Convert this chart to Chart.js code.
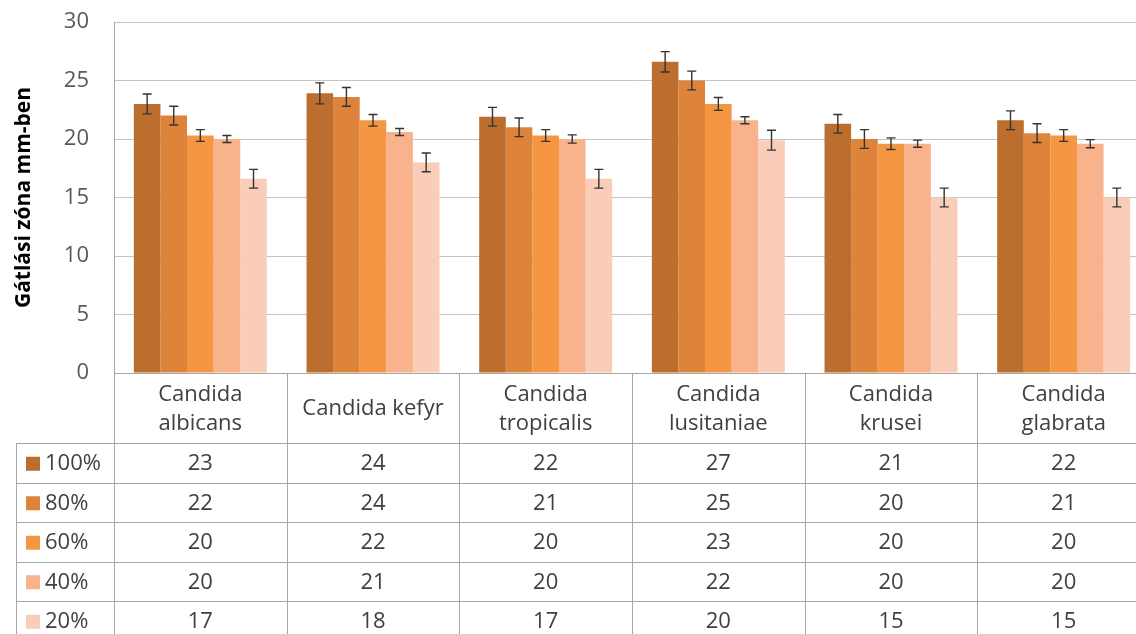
<!DOCTYPE html>
<html lang="hu">
<head>
    <meta charset="UTF-8">
    <title>Gátlási zóna</title>
    <script src="https://cdn.jsdelivr.net/npm/chart.js"></script>
    <style>
        html, body {
            margin: 0;
            padding: 0;
            background: white;
            overflow: hidden;
        }
        #wrap {
            width: 1150px;
            height: 634px;
        }
    </style>
</head>
<body>
    <div id="wrap"><canvas id="chart" width="1150" height="634"></canvas></div>

    <script>
        // categories (two-line labels as in the table header)
        const categories = [
            ['Candida', 'albicans'],
            ['Candida kefyr'],
            ['Candida', 'tropicalis'],
            ['Candida', 'lusitaniae'],
            ['Candida', 'krusei'],
            ['Candida', 'glabrata']
        ];
        const seriesNames = ['100%', '80%', '60%', '40%', '20%'];
        const seriesColors = ['#bb6e2d', '#de833a', '#f59642', '#f8b28c', '#f9cdb7'];

        // bar heights
        const values100 = [23.0, 23.9, 21.9, 26.6, 21.3, 21.6];
        const values80  = [22.0, 23.6, 21.0, 25.0, 20.0, 20.5];
        const values60  = [20.3, 21.6, 20.3, 23.0, 19.6, 20.3];
        const values40  = [20.0, 20.6, 20.0, 21.6, 19.6, 19.6];
        const values20  = [16.6, 18.0, 16.6, 19.9, 15.0, 15.0];

        // +/- error bar sizes
        const err100 = [0.85, 0.9, 0.8, 0.87, 0.8, 0.8];
        const err80  = [0.8, 0.8, 0.8, 0.8, 0.8, 0.8];
        const err60  = [0.5, 0.5, 0.5, 0.55, 0.5, 0.5];
        const err40  = [0.3, 0.3, 0.35, 0.3, 0.3, 0.35];
        const err20  = [0.8, 0.8, 0.8, 0.85, 0.8, 0.8];

        // numbers printed in the data table
        const table100 = [23, 24, 22, 27, 21, 22];
        const table80  = [22, 24, 21, 25, 20, 21];
        const table60  = [20, 22, 20, 23, 20, 20];
        const table40  = [20, 21, 20, 22, 20, 20];
        const table20  = [17, 18, 17, 20, 15, 15];

        const yTicks = [0, 5, 10, 15, 20, 25, 30];

        const allValues = [values100, values80, values60, values40, values20];
        const allErrors = [err100, err80, err60, err40, err20];
        const allTable = [table100, table80, table60, table40, table20];

        const FONT = '"Open Sans", "Noto Sans", sans-serif';
        const TEXT = '#404040';
        const LINE = '#a6a6a6';

        const errorBars = {
            id: 'errorBars',
            afterDatasetsDraw(chart) {
                const ctx = chart.ctx;
                const y = chart.scales.y;
                ctx.save();
                ctx.strokeStyle = '#333333';
                ctx.lineWidth = 1.4;
                chart.data.datasets.forEach((ds, di) => {
                    const meta = chart.getDatasetMeta(di);
                    meta.data.forEach((bar, i) => {
                        const v = ds.data[i], e = allErrors[di][i];
                        const top = y.getPixelForValue(v + e);
                        const bot = y.getPixelForValue(v - e);
                        const cap = 4.5;
                        ctx.beginPath();
                        ctx.moveTo(bar.x, top); ctx.lineTo(bar.x, bot);
                        ctx.moveTo(bar.x - cap, top); ctx.lineTo(bar.x + cap, top);
                        ctx.moveTo(bar.x - cap, bot); ctx.lineTo(bar.x + cap, bot);
                        ctx.stroke();
                    });
                });
                ctx.restore();
            }
        };

        const dataTable = {
            id: 'dataTable',
            afterDraw(chart) {
                const ctx = chart.ctx;
                const x = chart.scales.x;
                const area = chart.chartArea;
                const half = (x.getPixelForValue(1) - x.getPixelForValue(0)) / 2;
                const top = area.bottom;
                const headH = 70;
                const rowH = 39.5;
                const boxLeft = 16;
                const bottom = top + headH + rowH * seriesNames.length;
                const right = x.getPixelForValue(categories.length - 1) + half;

                ctx.save();
                ctx.strokeStyle = LINE;
                ctx.lineWidth = 1;
                ctx.beginPath();
                ctx.moveTo(area.left, top + 0.5); ctx.lineTo(right, top + 0.5);
                for (let r = 0; r <= seriesNames.length; r++) {
                    const yy = Math.round(top + headH + r * rowH) + 0.5;
                    ctx.moveTo(boxLeft, yy); ctx.lineTo(right, yy);
                }
                ctx.moveTo(boxLeft + 0.5, top + headH); ctx.lineTo(boxLeft + 0.5, bottom);
                for (let i = 0; i <= categories.length; i++) {
                    const xx = Math.round(x.getPixelForValue(i) - half) + 0.5;
                    ctx.moveTo(xx, top); ctx.lineTo(xx, bottom);
                }
                ctx.stroke();

                ctx.fillStyle = TEXT;
                ctx.font = '22px ' + FONT;
                ctx.textAlign = 'center';
                ctx.textBaseline = 'middle';
                categories.forEach((lab, i) => {
                    const cx = x.getPixelForValue(i);
                    const mid = top + headH / 2 + 1;
                    const n = lab.length;
                    lab.forEach((line, k) => {
                        ctx.fillText(line, cx, mid + (k - (n - 1) / 2) * 29);
                    });
                });

                seriesNames.forEach((name, r) => {
                    const cy = top + headH + r * rowH + rowH / 2 + 1;
                    ctx.fillStyle = seriesColors[r];
                    ctx.fillRect(26, cy - 7, 14, 14);
                    ctx.fillStyle = TEXT;
                    ctx.textAlign = 'left';
                    ctx.fillText(name, 45, cy);
                    ctx.textAlign = 'center';
                    allTable[r].forEach((v, i) => {
                        ctx.fillText(String(v), x.getPixelForValue(i), cy);
                    });
                });
                ctx.restore();
            }
        };

        const ctx = document.getElementById('chart').getContext('2d');
        new Chart(ctx, {
            type: 'bar',
            data: {
                labels: categories,
                datasets: seriesNames.map((name, i) => ({
                    label: name,
                    data: allValues[i],
                    backgroundColor: seriesColors[i],
                    borderWidth: 0,
                    barPercentage: 1.0,
                    categoryPercentage: 0.77
                }))
            },
            options: {
                responsive: false,
                animation: false,
                layout: { padding: { top: 22, bottom: 261, left: 0, right: 0 } },
                plugins: {
                    legend: { display: false },
                    tooltip: { enabled: false }
                },
                scales: {
                    x: {
                        display: false
                    },
                    y: {
                        min: 0,
                        max: 30,
                        afterBuildTicks(scale) {
                            scale.ticks = yTicks.map(v => ({ value: v }));
                        },
                        afterFit(scale) {
                            scale.width = 114;
                            scale.paddingTop = 0;
                            scale.paddingBottom = 0;
                        },
                        grid: { color: '#c4c4c4', drawTicks: false },
                        border: { display: true, color: LINE },
                        ticks: {
                            color: '#595959',
                            padding: 25,
                            font: { family: FONT, size: 22 }
                        },
                        title: {
                            display: true,
                            text: 'Gátlási zóna mm-ben',
                            color: '#000000',
                            font: { family: FONT, size: 21, weight: 'bold' },
                            padding: { top: 11, bottom: 0 }
                        }
                    }
                }
            },
            plugins: [errorBars, dataTable]
        });
    </script>
</body>
</html>
